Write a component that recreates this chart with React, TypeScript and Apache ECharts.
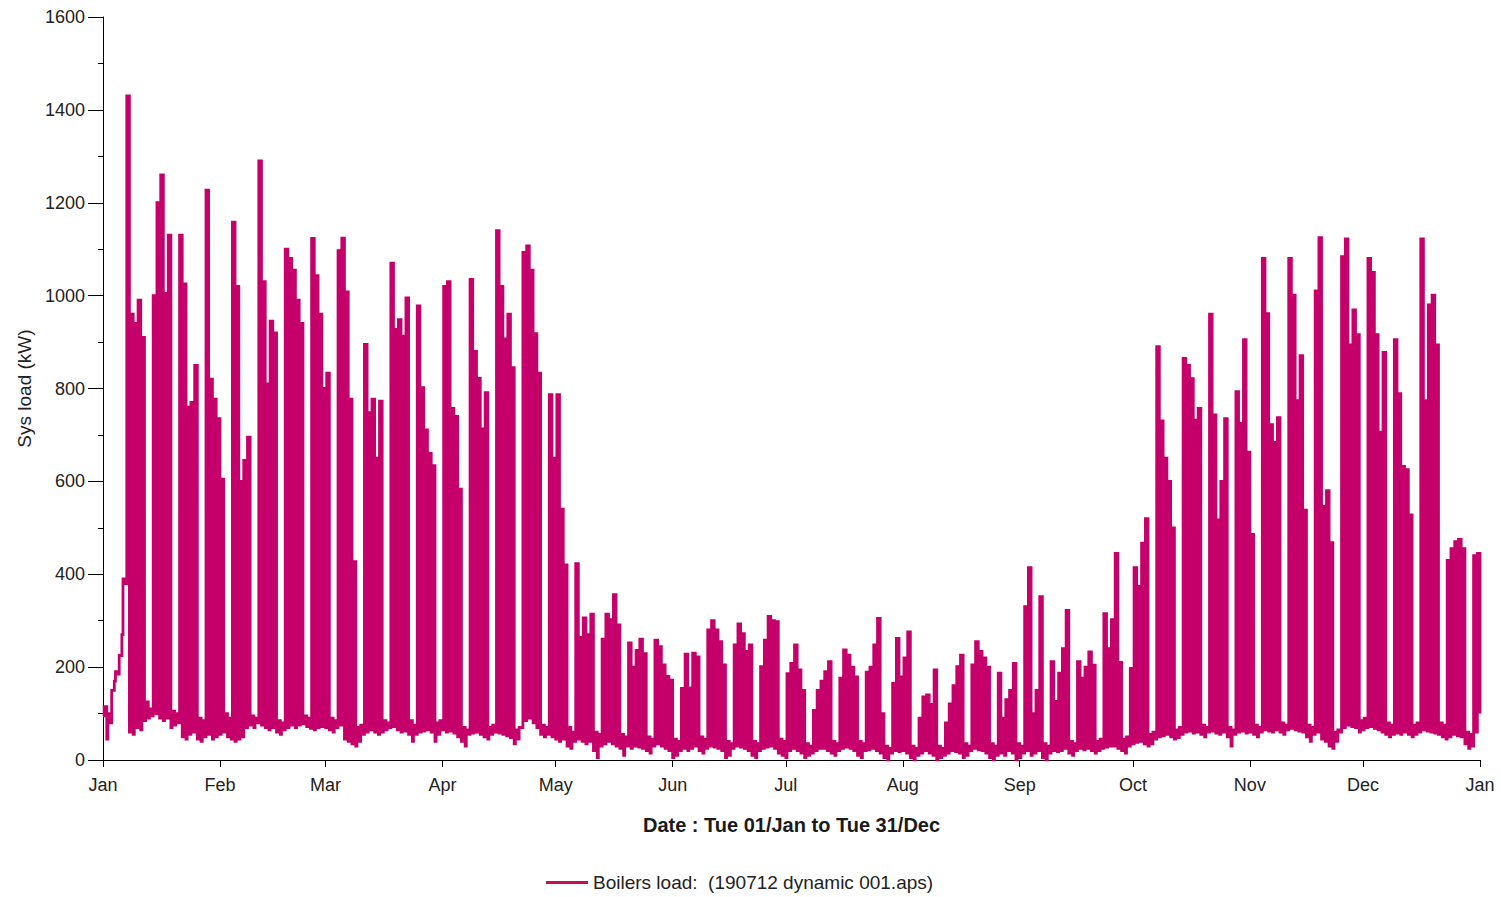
import React, { useEffect, useRef } from "react";
import * as echarts from "echarts";

// Month boundaries (day of year) and their tick labels
const monthStarts = [0, 31, 59, 90, 120, 151, 181, 212, 243, 273, 304, 334, 365];
const monthLabels = ["Jan", "Feb", "Mar", "Apr", "May", "Jun", "Jul", "Aug", "Sep", "Oct", "Nov", "Dec", "Jan"];

// Daily peak load (kW), per month
const janHigh = [115, 100, 150, 190, 225, 390, 1430, 960, 940, 990, 910, 125, 110, 1000, 1200, 1260, 1005, 1130, 105, 100, 1130, 1025, 760, 770, 850, 90, 85, 1227, 820, 777, 735];
const febHigh = [605, 100, 90, 1158, 1020, 600, 645, 695, 95, 90, 1290, 1030, 810, 945, 920, 85, 80, 1100, 1080, 1055, 990, 940, 95, 90, 1123, 1043, 960, 800];
const marHigh = [833, 90, 85, 1097, 1124, 1008, 777, 427, 70, 75, 895, 748, 777, 650, 773, 85, 80, 1070, 927, 948, 913, 995, 85, 75, 978, 802, 711, 660, 634, 80, 85];
const aprHigh = [1020, 1030, 757, 740, 583, 70, 65, 1035, 880, 822, 713, 791, 70, 75, 1140, 1020, 907, 960, 845, 65, 70, 1093, 1107, 1055, 918, 833, 75, 70, 787, 650];
const mayHigh = [787, 540, 420, 70, 60, 423, 264, 306, 270, 314, 60, 55, 260, 314, 302, 356, 291, 55, 50, 252, 200, 236, 260, 229, 50, 45, 258, 244, 205, 180, 172];
const junHigh = [45, 40, 154, 228, 155, 230, 222, 50, 45, 280, 300, 280, 255, 205, 40, 35, 248, 293, 272, 234, 248, 40, 35, 201, 258, 309, 300, 298, 45, 40];
const julHigh = [186, 208, 248, 194, 150, 35, 30, 107, 150, 170, 190, 212, 40, 35, 176, 237, 226, 200, 179, 40, 35, 189, 200, 248, 305, 100, 30, 25, 165, 262, 179];
const augHigh = [220, 276, 30, 25, 90, 136, 140, 120, 194, 30, 25, 80, 121, 160, 201, 226, 35, 30, 205, 255, 234, 220, 200, 35, 30, 187, 90, 130, 150, 208, 35];
const sepHigh = [30, 330, 414, 100, 150, 352, 35, 30, 212, 126, 187, 240, 322, 40, 35, 212, 176, 200, 233, 204, 40, 45, 315, 240, 302, 445, 210, 45, 50, 197];
const octHigh = [414, 374, 467, 520, 55, 60, 890, 730, 650, 600, 500, 65, 70, 865, 850, 821, 732, 757, 75, 70, 960, 743, 517, 600, 735, 70, 65, 793, 725, 905, 663];
const novHigh = [486, 75, 70, 1080, 961, 722, 684, 737, 80, 75, 1080, 1001, 774, 871, 538, 75, 70, 1010, 1125, 546, 580, 468, 60, 65, 1084, 1122, 894, 969, 916, 85];
const decHigh = [90, 1080, 1050, 916, 706, 878, 80, 75, 905, 789, 632, 625, 528, 75, 80, 1122, 774, 980, 1001, 894, 80, 75, 430, 455, 470, 475, 455, 60, 55, 440, 445];

// Daily night-time base load (kW), per month
const janLow = [95, 45, 80, 170, 185, 270, 380, 60, 55, 70, 65, 85, 90, 95, 100, 90, 85, 90, 70, 75, 80, 50, 45, 55, 60, 45, 40, 50, 55, 45, 50];
const febLow = [55, 60, 50, 45, 40, 45, 50, 70, 75, 70, 80, 75, 70, 65, 70, 60, 55, 65, 70, 75, 70, 75, 78, 72, 68, 65, 70, 72];
const marLow = [70, 65, 60, 70, 75, 45, 40, 35, 30, 40, 55, 60, 65, 60, 55, 60, 65, 70, 72, 65, 60, 62, 55, 40, 55, 60, 62, 65, 60, 40, 55];
const aprLow = [65, 60, 62, 58, 50, 40, 30, 55, 58, 60, 55, 50, 45, 55, 60, 58, 55, 52, 48, 35, 45, 70, 85, 90, 80, 70, 55, 50, 55, 50];
const mayLow = [45, 40, 45, 30, 25, 40, 45, 40, 35, 40, 20, 5, 30, 35, 40, 35, 30, 25, 10, 30, 25, 30, 28, 25, 20, 15, 30, 35, 30, 25, 20];
const junLow = [5, 10, 20, 25, 20, 25, 30, 20, 15, 25, 30, 28, 25, 20, 5, 10, 25, 30, 28, 25, 20, 10, 5, 20, 25, 28, 30, 25, 15, 10];
const julLow = [5, 20, 25, 20, 15, 5, 10, 15, 20, 25, 25, 20, 15, 10, 20, 25, 28, 25, 20, 10, 5, 20, 22, 25, 20, 15, 5, 0, 15, 20, 18];
const augLow = [20, 15, 5, 0, 10, 15, 20, 15, 10, 0, 5, 10, 15, 20, 18, 15, 5, 10, 20, 25, 22, 20, 15, 5, 0, 10, 15, 10, 20, 15, 0];
const sepLow = [5, 15, 20, 10, 15, 20, 5, 0, 15, 20, 18, 20, 25, 15, 10, 20, 25, 22, 25, 20, 15, 20, 25, 28, 30, 30, 25, 20, 15, 30];
const octLow = [35, 38, 40, 35, 30, 35, 45, 50, 52, 55, 50, 45, 48, 55, 60, 62, 58, 60, 55, 50, 60, 62, 58, 55, 60, 50, 30, 55, 60, 62, 58];
const novLow = [60, 55, 50, 60, 65, 62, 60, 65, 60, 55, 65, 68, 65, 62, 60, 50, 40, 55, 60, 45, 40, 30, 25, 40, 60, 70, 75, 72, 70, 60];
const decLow = [65, 70, 72, 68, 65, 60, 55, 50, 55, 58, 55, 60, 55, 50, 55, 60, 65, 62, 60, 58, 55, 50, 45, 50, 55, 52, 50, 35, 25, 30, 60];

const endValue = 100;

const seriesName = "Boilers load:  (190712 dynamic 001.aps)";
const xAxisTitle = "Date : Tue 01/Jan to Tue 31/Dec";
const yAxisTitle = "Sys load (kW)";

const FONT = "'Liberation Sans', Arial, Helvetica, sans-serif";
const LINE_COLOR = "#C6006A";

export default function App() {
  const ref = useRef<HTMLDivElement>(null);

  useEffect(() => {
    if (!ref.current) return;
    const chart = echarts.init(ref.current, null, { renderer: "svg" });

    const highs = [
      ...janHigh, ...febHigh, ...marHigh, ...aprHigh, ...mayHigh, ...junHigh,
      ...julHigh, ...augHigh, ...sepHigh, ...octHigh, ...novHigh, ...decHigh,
    ];
    const lows = [
      ...janLow, ...febLow, ...marLow, ...aprLow, ...mayLow, ...junLow,
      ...julLow, ...augLow, ...sepLow, ...octLow, ...novLow, ...decLow,
    ];
    const data: number[][] = [];
    for (let d = 0; d < highs.length; d++) {
      data.push([d, lows[d]]);
      data.push([d + 0.3, highs[d]]);
    }
    data.push([365, endValue]);

    chart.setOption({
      animation: false,
      backgroundColor: "#ffffff",
      textStyle: { fontFamily: FONT },
      grid: { left: 103, right: 21, top: 17, bottom: 137, containLabel: false },
      legend: {
        data: [seriesName],
        left: 546,
        top: 873,
        padding: 0,
        icon: "rect",
        itemWidth: 42,
        itemHeight: 3,
        itemStyle: { color: "#C8104E" },
        textStyle: { fontSize: 19, color: "#222", fontFamily: FONT },
      },
      xAxis: {
        type: "value",
        min: 0,
        max: 365,
        name: xAxisTitle,
        nameLocation: "middle",
        nameGap: 55,
        nameTextStyle: { fontSize: 20, fontWeight: "bold", color: "#1a1a1a", fontFamily: FONT },
        axisLine: { show: true, onZero: false, lineStyle: { color: "#000", width: 1 } },
        axisTick: { show: true, length: 7, lineStyle: { color: "#000" }, customValues: monthStarts },
        axisLabel: {
          customValues: monthStarts,
          formatter: (v: number) => {
            const i = monthStarts.indexOf(Math.round(v));
            return i >= 0 ? monthLabels[i] : "";
          },
          fontSize: 18,
          color: "#222",
          margin: 16,
          fontFamily: FONT,
        },
        splitLine: { show: false },
      },
      yAxis: {
        type: "value",
        min: 0,
        max: 1600,
        interval: 200,
        name: yAxisTitle,
        nameLocation: "middle",
        nameGap: 69,
        nameTextStyle: { fontSize: 19, color: "#222", fontFamily: FONT },
        axisLine: { show: true, lineStyle: { color: "#000", width: 1 } },
        axisTick: { show: true, length: 15, lineStyle: { color: "#000" } },
        minorTick: { show: true, splitNumber: 2, length: 5, lineStyle: { color: "#000" } },
        axisLabel: {
          fontSize: 18,
          color: "#222",
          margin: 18,
          fontFamily: FONT,
          formatter: (v: number) => String(v),
        },
        splitLine: { show: false },
      },
      series: [
        {
          type: "line",
          name: seriesName,
          data,
          step: "end",
          symbol: "none",
          showSymbol: false,
          silent: true,
          lineStyle: { color: LINE_COLOR, width: 2.8, join: "miter" },
          itemStyle: { color: LINE_COLOR },
        },
      ],
    });

    return () => chart.dispose();
  }, []);

  return (
    <div
      ref={ref}
      style={{ position: "fixed", left: 0, top: 0, width: 1501, height: 897, background: "#fff" }}
    />
  );
}
